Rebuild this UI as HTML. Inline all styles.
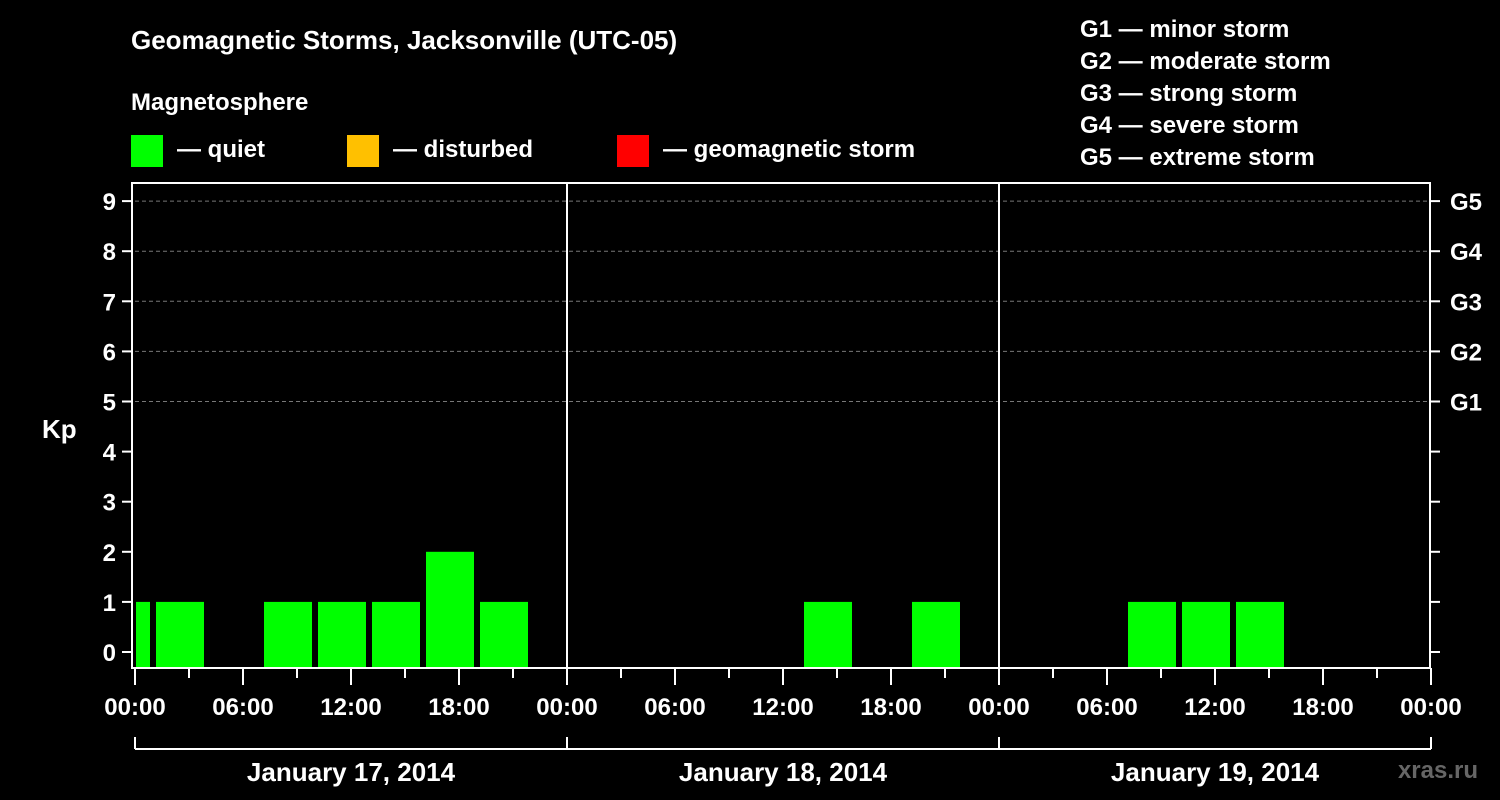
<!DOCTYPE html>
<html><head><meta charset="utf-8"><style>
html,body{margin:0;padding:0;background:#000;}
svg{display:block;font-family:"Liberation Sans",sans-serif;font-weight:bold;}
</style></head><body>
<svg id="c" width="1500" height="800" viewBox="0 0 1500 800">
<text x="131" y="49" fill="#fff" font-size="26">Geomagnetic Storms, Jacksonville (UTC-05)</text>
<text x="131" y="110" fill="#fff" font-size="24">Magnetosphere</text>
<g><rect x="131" y="135" width="32" height="32" fill="#00ff00"/><text x="177" y="157" fill="#fff" font-size="24">— quiet</text></g>
<g><rect x="347" y="135" width="32" height="32" fill="#ffc000"/><text x="393" y="157" fill="#fff" font-size="24">— disturbed</text></g>
<g><rect x="617" y="135" width="32" height="32" fill="#ff0000"/><text x="663" y="157" fill="#fff" font-size="24">— geomagnetic storm</text></g>
<g fill="#fff" font-size="24">
<text x="1080" y="37">G1 — minor storm</text><text x="1080" y="69">G2 — moderate storm</text><text x="1080" y="101">G3 — strong storm</text><text x="1080" y="133">G4 — severe storm</text><text x="1080" y="165">G5 — extreme storm</text></g>
<text x="42" y="438" fill="#fff" font-size="26">Kp</text>
<text x="1478" y="778" fill="#666" font-size="24" text-anchor="end">xras.ru</text>
<g id="plot"></g>
</svg>
<script>
const days = ["January 17, 2014","January 18, 2014","January 19, 2014"];
const xTickLabels = ["00:00","06:00","12:00","18:00"];
const kpTicks = [0,1,2,3,4,5,6,7,8,9];
const gLabels = ["G1","G2","G3","G4","G5"];
// bar start hours (local) and Kp values
const barStarts = [-2,1,7,10,13,16,19,37,43,55,58,61];
const barValues = [1,1,1,1,1,2,1,1,1,1,1,1];

const X0=135, PX_H=18, Y0=652, PX_K=50.1, TOP=183, BOT=668, RIGHT=1430;
const xs = h => X0 + h*PX_H;
const ys = k => Y0 - k*PX_K;
const NS="http://www.w3.org/2000/svg";
const plot=document.getElementById('plot');
function mk(tag,attrs,parent){const e=document.createElementNS(NS,tag);for(const k in attrs)e.setAttribute(k,attrs[k]);(parent||plot).appendChild(e);return e;}

// grid lines for G levels
for(let k=5;k<=9;k++){
  const l=mk('line',{x1:X0,x2:RIGHT,y1:ys(k),y2:ys(k),stroke:'#777','stroke-dasharray':'4,3','stroke-width':1});
  
  
}
// bars
barStarts.forEach((h,i)=>{
  const v=barValues[i]; if(v<=0) return;
  let x1=xs(h)+3, x2=xs(h+3)-3;
  if(x1<X0+1) x1=X0+1;
  const color=v>=5?'#ff0000':(v>=4?'#ffc000':'#00ff00');
  const r=mk('rect',{x:x1,y:ys(v),width:x2-x1,height:BOT-ys(v),fill:color});
  
  
});
// frame
const f=mk('rect',{x:132,y:TOP,width:RIGHT-132,height:BOT-TOP,fill:'none',stroke:'#fff','stroke-width':2});


// day separators
for(let d=1;d<days.length;d++){
  const l=mk('line',{x1:xs(24*d),x2:xs(24*d),y1:TOP,y2:BOT,stroke:'#fff','stroke-width':2});
  
  
}
// y ticks
kpTicks.forEach(k=>{
  mk('line',{x1:122,x2:132,y1:ys(k),y2:ys(k),stroke:'#fff','stroke-width':2});
  mk('line',{x1:RIGHT,x2:RIGHT+10,y1:ys(k),y2:ys(k),stroke:'#fff','stroke-width':2});
  const t=mk('text',{x:116,y:ys(k)+9,fill:'#fff','font-size':24,'text-anchor':'end'});
  t.textContent=k;
  
  
});
gLabels.forEach((g,i)=>{
  const t=mk('text',{x:1450,y:ys(5+i)+9,fill:'#fff','font-size':24});
  t.textContent=g;
  
  
});
// x ticks
for(let h=0;h<=24*days.length;h+=3){
  const major=h%6===0;
  mk('line',{x1:xs(h),x2:xs(h),y1:BOT,y2:major?685:678,stroke:'#fff','stroke-width':2});
  if(major){
    const t=mk('text',{x:xs(h),y:715,fill:'#fff','font-size':24,'text-anchor':'middle'});
    t.textContent=xTickLabels[(h/6)%4];
    
    
  }
}
// day brackets
mk('line',{x1:xs(0),x2:xs(24*days.length),y1:749,y2:749,stroke:'#fff','stroke-width':2});
for(let d=0;d<=days.length;d++) mk('line',{x1:xs(24*d),x2:xs(24*d),y1:737,y2:749,stroke:'#fff','stroke-width':2});
days.forEach((d,i)=>{
  const t=mk('text',{x:xs(24*i+12),y:781,fill:'#fff','font-size':26,'text-anchor':'middle'});
  t.textContent=d;
  
  
});
</script>
</body></html>
